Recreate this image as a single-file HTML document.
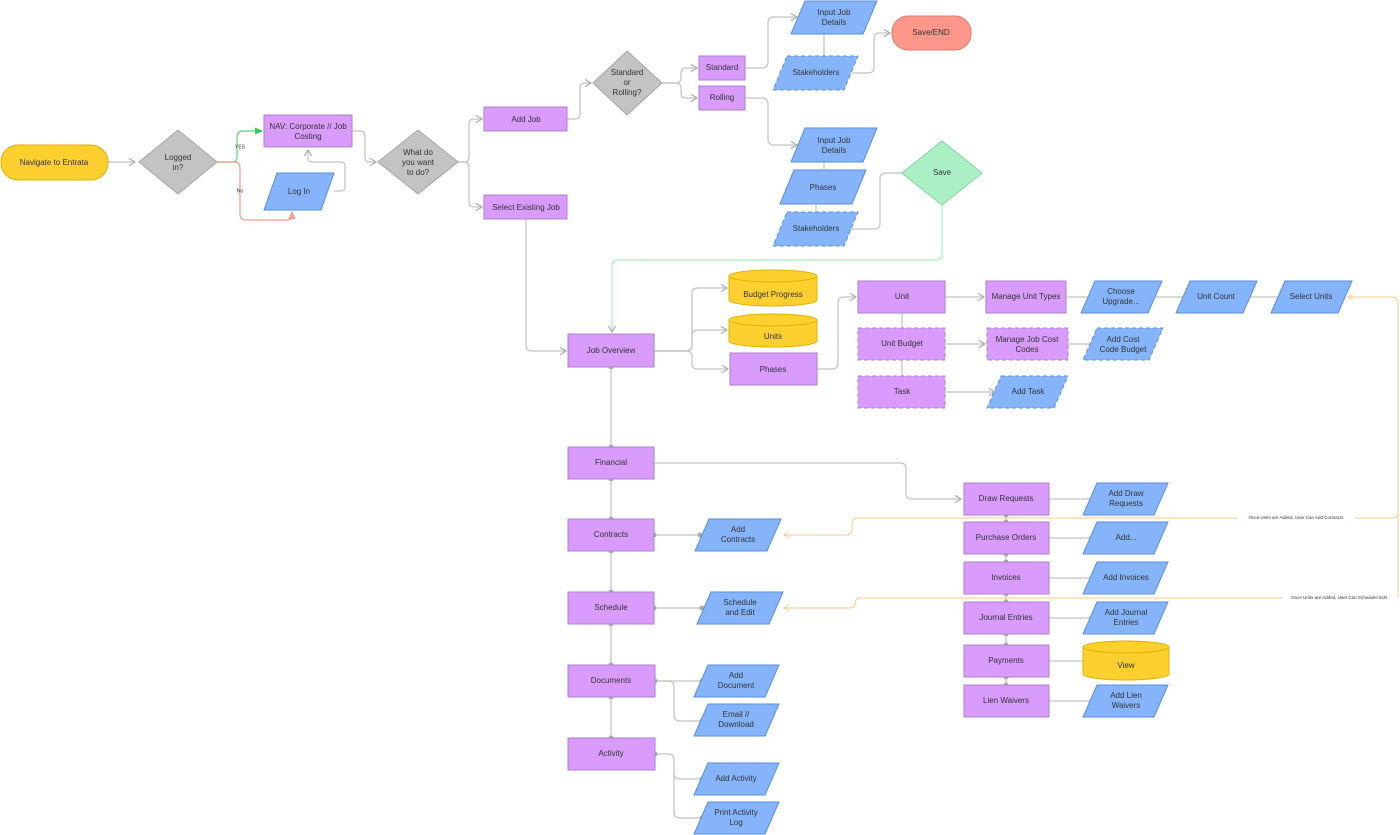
<!DOCTYPE html>
<html><head><meta charset="utf-8"><style>
html,body{margin:0;padding:0;background:#fff;}
svg{display:block;}
text{font-family:"Liberation Sans",sans-serif;font-size:8px;fill:#333;text-anchor:middle;dominant-baseline:middle;}
.p{fill:#d99bfc;stroke:#b07fd0;stroke-width:1;}
.b{fill:#85b4fb;stroke:#5a8ede;stroke-width:1;}
.d{stroke-dasharray:4 3;}
.g{fill:#c3c3c3;stroke:#a5a5a5;stroke-width:1;}
.l{fill:none;stroke:#c2c2c2;stroke-width:1.2;}
.o{fill:none;stroke:#fdc98a;stroke-width:1;}
.y{fill:#fdd030;stroke:#e0b000;stroke-width:1;}
.dot{fill:#aaa;}
</style></head><body>
<svg width="1400" height="835" viewBox="0 0 1400 835" xmlns="http://www.w3.org/2000/svg">
<defs>
<marker id="a" markerWidth="8" markerHeight="8" refX="6" refY="4" orient="auto"><path d="M1,1 L6,4 L1,7" fill="none" stroke="#aaa" stroke-width="1"/></marker>
<marker id="ag" markerWidth="8" markerHeight="8" refX="6" refY="4" orient="auto"><path d="M0,1 L7,4 L0,7z" fill="#3cc85a"/></marker>
<marker id="ar" markerWidth="8" markerHeight="8" refX="6" refY="4" orient="auto"><path d="M0,1 L7,4 L0,7z" fill="#f59a8f"/></marker>
<marker id="ao" markerWidth="8" markerHeight="8" refX="6" refY="4" orient="auto"><path d="M1,1 L6,4 L1,7" fill="none" stroke="#fdc98a" stroke-width="1"/></marker>
</defs>

<path class="l" d="M108,162 H135" marker-end="url(#a)"/>
<path d="M217,162 H232 Q237,162 237,157 V137 Q237,131 243,131 H262" fill="none" stroke="#5fd37a" stroke-width="1.2" marker-end="url(#ag)"/>
<path d="M217,162 H234 Q240,162 240,168 V214 Q240,220 246,220 H288 Q292,220 292,216 V212" fill="none" stroke="#f59a8f" stroke-width="1.2" marker-end="url(#ar)"/>
<text x="240" y="147" style="font-size:5px">YES</text>
<text x="240" y="191" style="font-size:5px">No</text>
<path class="l" d="M334,191 H341 Q345,191 345,187 V166 Q345,162 341,162 H312 Q308,162 308,158 V150" marker-end="url(#a)"/>
<path class="l" d="M352,131 H360 Q365,131 365,136 V157 Q365,162 370,162 H376" marker-end="url(#a)"/>
<path class="l" d="M458,162 H464 Q469,162 469,157 V124 Q469,119 474,119 H482" marker-end="url(#a)"/>
<path class="l" d="M458,162 H464 Q469,162 469,167 V202 Q469,207 474,207 H482" marker-end="url(#a)"/>
<path class="l" d="M567,119 H575 Q580,119 580,114 V88 Q580,83 585,83 H591" marker-end="url(#a)"/>
<path class="l" d="M662,83 H676 Q681,83 681,78 V73 Q681,68 686,68 H697" marker-end="url(#a)"/>
<path class="l" d="M662,83 H676 Q681,83 681,88 V93 Q681,98 686,98 H697" marker-end="url(#a)"/>
<path class="l" d="M745,68 H762 Q768,68 768,62 V23 Q768,17 774,17 H797" marker-end="url(#a)"/>
<path class="l" d="M824,34 V56"/>
<path class="l" d="M852,73 H868 Q874,73 874,67 V39 Q874,33 880,33 H890" marker-end="url(#a)"/>
<path class="l" d="M745,98 H762 Q768,98 768,104 V139 Q768,145 774,145 H797" marker-end="url(#a)"/>
<path class="l" d="M824,162 V170 M816,204 V212"/>
<path class="l" d="M852,229 H874 Q880,229 880,223 V179 Q880,173 886,173 H902"/>
<path d="M942,205 V254 Q942,260 936,260 H618 Q612,260 612,266 V332" fill="none" stroke="#a8ecc0" stroke-width="1.2" marker-end="url(#a)"/>
<path class="l" d="M526,219 V345 Q526,351 532,351 H566" marker-end="url(#a)"/>
<path class="l" d="M654,351 H686 Q692,351 692,345 V294 Q692,288 698,288 H727" marker-end="url(#a)"/>
<path class="l" d="M654,351 H686 Q692,351 692,345 V336 Q692,330 698,330 H727" marker-end="url(#a)"/>
<path class="l" d="M654,351 H686 Q692,351 692,357 V364 Q692,369 698,369 H728" marker-end="url(#a)"/>
<path class="l" d="M817,369 H832 Q838,369 838,363 V303 Q838,297 844,297 H856" marker-end="url(#a)"/>
<path class="l" d="M902,313 V328 M902,360 V376"/>
<path class="l" d="M945,297 H984" marker-end="url(#a)"/>
<path class="l" d="M945,344 H985" marker-end="url(#a)"/>
<path class="l" d="M945,392 H995" marker-end="url(#a)"/>
<path class="l" d="M1066,297 H1090 M1156,297 H1185 M1250,297 H1280 M1068,344 H1092"/>
<path class="l" d="M611,367 V447 M611,479 V519 M611,551 V592 M611,624 V665 M611,697 V738"/>
<path class="l" d="M654,463 H900 Q906,463 906,469 V493 Q906,499 912,499 H961" marker-end="url(#a)"/>
<path class="l" d="M654,535 H698 M654,608 H700 M654,681 H700"/>
<path class="l" d="M654,681 H668 Q674,681 674,687 V715 Q674,721 680,721 H700"/>
<path class="l" d="M654,754 H668 Q674,754 674,760 V773 Q674,779 680,779 H700"/>
<path class="l" d="M674,773 V812 Q674,818 680,818 H700"/>
<path class="l" d="M1006,515 V522 M1006,554 V562 M1006,594 V602 M1006,634 V645 M1006,677 V685"/>
<path class="l" d="M1049,499 H1092 M1049,538 H1092 M1049,578 H1092 M1049,618 H1092 M1049,661 H1083 M1049,701 H1092"/>
<g class="dot">
<circle cx="611" cy="367" r="2.5"/><circle cx="611" cy="447" r="2.5"/><circle cx="611" cy="479" r="2.5"/><circle cx="611" cy="519" r="2.5"/><circle cx="611" cy="551" r="2.5"/><circle cx="611" cy="592" r="2.5"/><circle cx="611" cy="624" r="2.5"/><circle cx="611" cy="665" r="2.5"/><circle cx="611" cy="697" r="2.5"/><circle cx="611" cy="738" r="2.5"/>
<circle cx="654" cy="535" r="2.5"/><circle cx="700" cy="535" r="2.5"/><circle cx="654" cy="608" r="2.5"/><circle cx="702" cy="608" r="2.5"/><circle cx="655" cy="681" r="2.5"/><circle cx="702" cy="681" r="2.5"/><circle cx="702" cy="721" r="2.5"/><circle cx="655" cy="754" r="2.5"/><circle cx="702" cy="779" r="2.5"/><circle cx="702" cy="818" r="2.5"/>
<circle cx="1006" cy="515" r="2.5"/><circle cx="1006" cy="522" r="2.5"/><circle cx="1006" cy="554" r="2.5"/><circle cx="1006" cy="562" r="2.5"/><circle cx="1006" cy="594" r="2.5"/><circle cx="1006" cy="602" r="2.5"/><circle cx="1006" cy="634" r="2.5"/><circle cx="1006" cy="645" r="2.5"/><circle cx="1006" cy="677" r="2.5"/><circle cx="1006" cy="685" r="2.5"/>
</g>
<path class="o" d="M1398,598 V303 Q1398,297 1392,297 H1348" marker-end="url(#ao)"/>
<path class="o" d="M1398,512 Q1398,518 1392,518 H1355 M1238,518 H858 Q852,518 852,524 V529 Q852,535 846,535 H784" marker-end="url(#ao)"/>
<path class="o" d="M1282,598 H861 Q855,598 855,604 V602 Q855,608 849,608 H784" marker-end="url(#ao)"/>
<text x="1296" y="518" style="font-size:4.5px">Once Units are Added, User Can Add Contracts</text>
<text x="1339" y="598" style="font-size:4.5px">Once Units are Added, User Can Schedule/ Edit</text>

<rect class="y" x="1" y="145" width="107" height="35" rx="17"/><text x="54" y="163">Navigate to Entrata</text>
<polygon class="g" points="178,130 217,162 178,194 139,162"/><text x="178" y="158">Logged</text><text x="178" y="168">in?</text>
<rect class="p" x="264" y="115" width="88" height="32"/><text x="308" y="127">NAV: Corporate // Job</text><text x="308" y="137">Costing</text>
<polygon class="b" points="277,173 334,173 321,210 264,210"/><text x="299" y="192">Log In</text>
<polygon class="g" points="418,130 458,162 418,194 378,162"/><text x="418" y="153">What do</text><text x="418" y="163">you want</text><text x="418" y="173">to do?</text>
<rect class="p" x="484" y="107" width="83" height="24"/><text x="526" y="120">Add Job</text>
<rect class="p" x="484" y="195" width="83" height="24"/><text x="526" y="208">Select Existing Job</text>
<polygon class="g" points="627,51 662,83 627,115 593,83"/><text x="627" y="73">Standard</text><text x="627" y="83">or</text><text x="627" y="93">Rolling?</text>
<rect class="p" x="699" y="56" width="46" height="24"/><text x="722" y="68">Standard</text>
<rect class="p" x="699" y="86" width="46" height="24"/><text x="722" y="98">Rolling</text>
<polygon class="b" points="805,1 877,1 863,34 791,34"/><text x="834" y="13">Input Job</text><text x="834" y="23">Details</text>
<polygon class="b d" points="787,56 858,56 844,90 773,90"/><text x="816" y="73">Stakeholders</text>
<rect x="892" y="16" width="79" height="34" rx="16" fill="#fe968c" stroke="#e07a70" stroke-width="1"/><text x="931" y="33">Save/END</text>
<polygon class="b" points="805,128 877,128 863,162 791,162"/><text x="834" y="141">Input Job</text><text x="834" y="151">Details</text>
<polygon class="b" points="794,170 866,170 852,204 780,204"/><text x="823" y="188">Phases</text>
<polygon class="b d" points="787,212 858,212 844,246 773,246"/><text x="816" y="229">Stakeholders</text>
<polygon points="942,141 982,173 942,205 902,173" fill="#abf0c4" stroke="#7ad69c" stroke-width="1"/><text x="942" y="173">Save</text>
<rect class="p" x="568" y="334" width="86" height="33"/><text x="611" y="351">Job Overview</text>
<path class="y" d="M729,276 V300 A44,6 0 0 0 817,300 V276 A44,6 0 0 0 729,276 A44,6 0 0 0 817,276"/><text x="773" y="295">Budget Progress</text>
<path class="y" d="M729,320 V341 A44,6 0 0 0 817,341 V320 A44,6 0 0 0 729,320 A44,6 0 0 0 817,320"/><text x="773" y="337">Units</text>
<rect class="p" x="730" y="353" width="87" height="32"/><text x="773" y="370">Phases</text>
<rect class="p" x="858" y="281" width="87" height="32"/><text x="902" y="297">Unit</text>
<rect class="p d" x="858" y="328" width="87" height="32"/><text x="902" y="344">Unit Budget</text>
<rect class="p d" x="858" y="376" width="87" height="32"/><text x="902" y="392">Task</text>
<rect class="p" x="986" y="281" width="80" height="32"/><text x="1026" y="297">Manage Unit Types</text>
<rect class="p d" x="987" y="328" width="81" height="32"/><text x="1027" y="340">Manage Job Cost</text><text x="1027" y="350">Codes</text>
<polygon class="b d" points="1001,376 1068,376 1054,408 987,408"/><text x="1028" y="392">Add Task</text>
<polygon class="b" points="1095,281 1162,281 1148,313 1081,313"/><text x="1121" y="292">Choose</text><text x="1121" y="302">Upgrade...</text>
<polygon class="b d" points="1097,328 1163,328 1149,360 1083,360"/><text x="1123" y="340">Add Cost</text><text x="1123" y="350">Code Budget</text>
<polygon class="b" points="1190,281 1257,281 1243,313 1176,313"/><text x="1216" y="297">Unit Count</text>
<polygon class="b" points="1285,281 1352,281 1338,313 1271,313"/><text x="1311" y="297">Select Units</text>
<rect class="p" x="568" y="447" width="86" height="32"/><text x="611" y="463">Financial</text>
<rect class="p" x="568" y="519" width="86" height="32"/><text x="611" y="535">Contracts</text>
<rect class="p" x="568" y="592" width="86" height="32"/><text x="611" y="608">Schedule</text>
<rect class="p" x="568" y="665" width="87" height="32"/><text x="611" y="681">Documents</text>
<rect class="p" x="568" y="738" width="87" height="32"/><text x="611" y="754">Activity</text>
<polygon class="b" points="709,519 781,519 767,551 695,551"/><text x="738" y="530">Add</text><text x="738" y="540">Contracts</text>
<polygon class="b" points="711,592 783,592 769,624 697,624"/><text x="740" y="603">Schedule</text><text x="740" y="613">and Edit</text>
<polygon class="b" points="708,665 779,665 765,697 694,697"/><text x="736" y="676">Add</text><text x="736" y="686">Document</text>
<polygon class="b" points="708,704 779,704 765,736 694,736"/><text x="736" y="715">Email //</text><text x="736" y="725">Download</text>
<polygon class="b" points="708,763 779,763 765,795 694,795"/><text x="736" y="779">Add Activity</text>
<polygon class="b" points="708,802 779,802 765,834 694,834"/><text x="736" y="813">Print Activity</text><text x="736" y="823">Log</text>
<rect class="p" x="964" y="483" width="85" height="32"/><text x="1006" y="499">Draw Requests</text>
<rect class="p" x="964" y="522" width="85" height="32"/><text x="1006" y="538">Purchase Orders</text>
<rect class="p" x="964" y="562" width="85" height="32"/><text x="1006" y="578">Invoices</text>
<rect class="p" x="964" y="602" width="85" height="32"/><text x="1006" y="618">Journal Entries</text>
<rect class="p" x="964" y="645" width="85" height="32"/><text x="1006" y="661">Payments</text>
<rect class="p" x="964" y="685" width="85" height="32"/><text x="1006" y="701">Lien Waivers</text>
<polygon class="b" points="1097,483 1168,483 1154,515 1083,515"/><text x="1126" y="494">Add Draw</text><text x="1126" y="504">Requests</text>
<polygon class="b" points="1097,522 1168,522 1154,554 1083,554"/><text x="1126" y="538">Add...</text>
<polygon class="b" points="1097,562 1168,562 1154,594 1083,594"/><text x="1126" y="578">Add Invoices</text>
<polygon class="b" points="1097,602 1168,602 1154,634 1083,634"/><text x="1126" y="613">Add Journal</text><text x="1126" y="623">Entries</text>
<path class="y" d="M1083,647 V674 A43,6 0 0 0 1169,674 V647 A43,6 0 0 0 1083,647 A43,6 0 0 0 1169,647"/><text x="1126" y="666">View</text>
<polygon class="b" points="1097,685 1168,685 1154,717 1083,717"/><text x="1126" y="696">Add Lien</text><text x="1126" y="706">Waivers</text>
</svg>
</body></html>
